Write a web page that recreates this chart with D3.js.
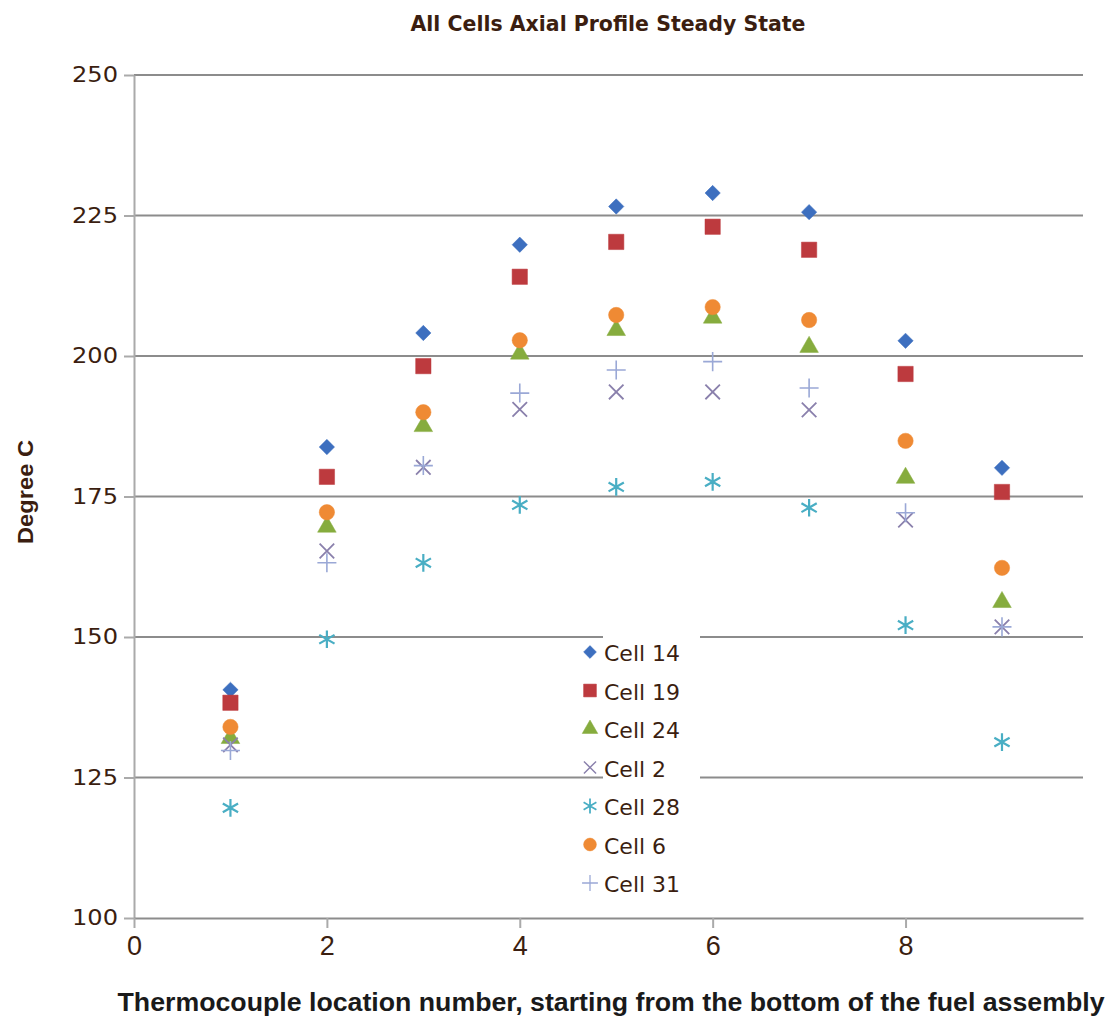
<!DOCTYPE html>
<html><head><meta charset="utf-8">
<script src="https://cdn.jsdelivr.net/npm/d3@7"></script>
<style>body{margin:0;background:#fff}svg{display:block}</style>
</head><body>
<svg id="c" width="1110" height="1018"></svg>
<script>
const xs = [1,2,3,4,5,6,7,8,9];
const seriesNames = ["Cell 14","Cell 19","Cell 24","Cell 2","Cell 28","Cell 6","Cell 31"];
const cell14 = [140.6,183.8,204.1,219.8,226.6,229.0,225.6,202.7,180.1];
const cell19 = [138.3,178.5,198.2,214.1,220.3,223.0,218.9,196.8,175.8];
const cell24 = [132.0,169.6,187.5,200.4,204.6,206.8,201.6,178.3,156.2];
const cell2  = [130.8,165.3,180.2,190.5,193.6,193.6,190.4,170.8,151.8];
const cell28 = [119.6,149.6,163.2,173.5,176.7,177.6,173.0,152.1,131.3];
const cell6  = [134.0,172.2,190.0,202.8,207.3,208.7,206.4,184.9,162.3];
const cell31 = [129.8,163.2,180.5,193.4,197.5,199.0,194.3,172.1,151.8];
const yTicks = [100,125,150,175,200,225,250];
const xTicks = [0,2,4,6,8];

const values = [cell14,cell19,cell24,cell2,cell28,cell6,cell31];
const colors = ["#3d6fbf","#bd3a3e","#86ac3e","#8a80ac","#49aec4","#ef8a34","#9aa8d6"];
const symbols = [d3.symbolDiamond2,d3.symbolSquare,d3.symbolTriangle,d3.symbolTimes,d3.symbolAsterisk,d3.symbolCircle,d3.symbolPlus];
const sizes = [150,235,150,140,220,185,120];
const filled = [true,true,true,false,false,true,false];
const strokeW = [0.5,0.5,0.5,1.8,2.2,0.5,1.6];

const svg = d3.select("#c");
const x = d3.scaleLinear().domain([0,9.84]).range([134,1083]);
const y = d3.scaleLinear().domain([100,250]).range([918,75]);
const brown = "#3b1e10";
const grid = "#8c8c8c";

// gridlines
svg.append("g").selectAll("line").data(yTicks.filter(d=>d>100)).join("line")
  .attr("x1",x(0)).attr("x2",x.range()[1]).attr("y1",d=>y(d)).attr("y2",d=>y(d))
  .attr("stroke",grid).attr("stroke-width",2);

// y axis
const ya = svg.append("g").attr("transform",`translate(${x(0)},0)`)
  .call(d3.axisLeft(y).tickValues(yTicks).tickSize(10).tickSizeOuter(0).tickPadding(6).tickFormat(d3.format("d")));
ya.select(".domain").attr("stroke","#aaa").attr("stroke-width",2);
ya.selectAll(".tick line").attr("stroke","#aaa").attr("stroke-width",2);
ya.selectAll(".tick text").attr("fill",brown).attr("font-family","DejaVu Sans").attr("font-size",21)
  .attr("textLength",46).attr("lengthAdjust","spacingAndGlyphs");

// x axis
const xa = svg.append("g").attr("transform",`translate(0,${y(100)})`)
  .call(d3.axisBottom(x).tickValues(xTicks).tickSize(10).tickSizeOuter(0).tickPadding(8).tickFormat(d3.format("d")));
xa.select(".domain").attr("stroke",grid).attr("stroke-width",2);
xa.selectAll(".tick line").attr("stroke","#aaa").attr("stroke-width",2);
xa.selectAll(".tick text").attr("fill",brown).attr("font-family","Liberation Sans Narrow, Liberation Sans").attr("font-size",27);

// points
values.forEach((vals,i)=>{
  const sym = d3.symbol().type(symbols[i]).size(sizes[i]);
  svg.append("g").selectAll("path").data(vals.map((v,j)=>({x:xs[j],y:v}))).join("path")
    .attr("transform",d=>`translate(${x(d.x)},${y(d.y)})`)
    .attr("d",sym)
    .attr("fill",filled[i]?colors[i]:"none")
    .attr("stroke",colors[i])
    .attr("stroke-width",strokeW[i]);
});

// legend
const lg = svg.append("g");
seriesNames.forEach((name,i)=>{
  const ly = 652 + i*38.5;
  lg.append("rect").attr("x",603).attr("y",ly-16).attr("width",97).attr("height",32).attr("fill","#fff");
  lg.append("path").attr("transform",`translate(590,${ly})`)
    .attr("d",d3.symbol().type(symbols[i]).size(sizes[i]*0.7))
    .attr("fill",filled[i]?colors[i]:"none").attr("stroke",colors[i]).attr("stroke-width",filled[i]?0.5:strokeW[i]*0.8);
  lg.append("text").attr("x",604).attr("y",ly+9).text(name)
    .attr("fill",brown).attr("font-family","DejaVu Sans").attr("font-size",22);
});

// title
svg.append("text").attr("x",608).attr("y",31).attr("text-anchor","middle")
  .text("All Cells Axial Profile Steady State")
  .attr("fill",brown).attr("font-family","DejaVu Sans").attr("font-weight","bold").attr("font-size",22)
  .attr("textLength",395).attr("lengthAdjust","spacingAndGlyphs");

// y label
svg.append("text").attr("transform","translate(33,492) rotate(-90)").attr("text-anchor","middle")
  .text("Degree C").attr("fill",brown).attr("font-family","Liberation Sans Narrow, Liberation Sans")
  .attr("font-weight","bold").attr("font-size",22).attr("textLength",104).attr("lengthAdjust","spacingAndGlyphs");

// x label
svg.append("text").attr("x",611).attr("y",1011).attr("text-anchor","middle")
  .text("Thermocouple location number, starting from the bottom of the fuel assembly")
  .attr("fill","#1a1a1a").attr("font-family","Liberation Sans Narrow, Liberation Sans").attr("font-weight","bold").attr("font-size",26)
  .attr("textLength",987).attr("lengthAdjust","spacingAndGlyphs");
</script>
</body></html>
